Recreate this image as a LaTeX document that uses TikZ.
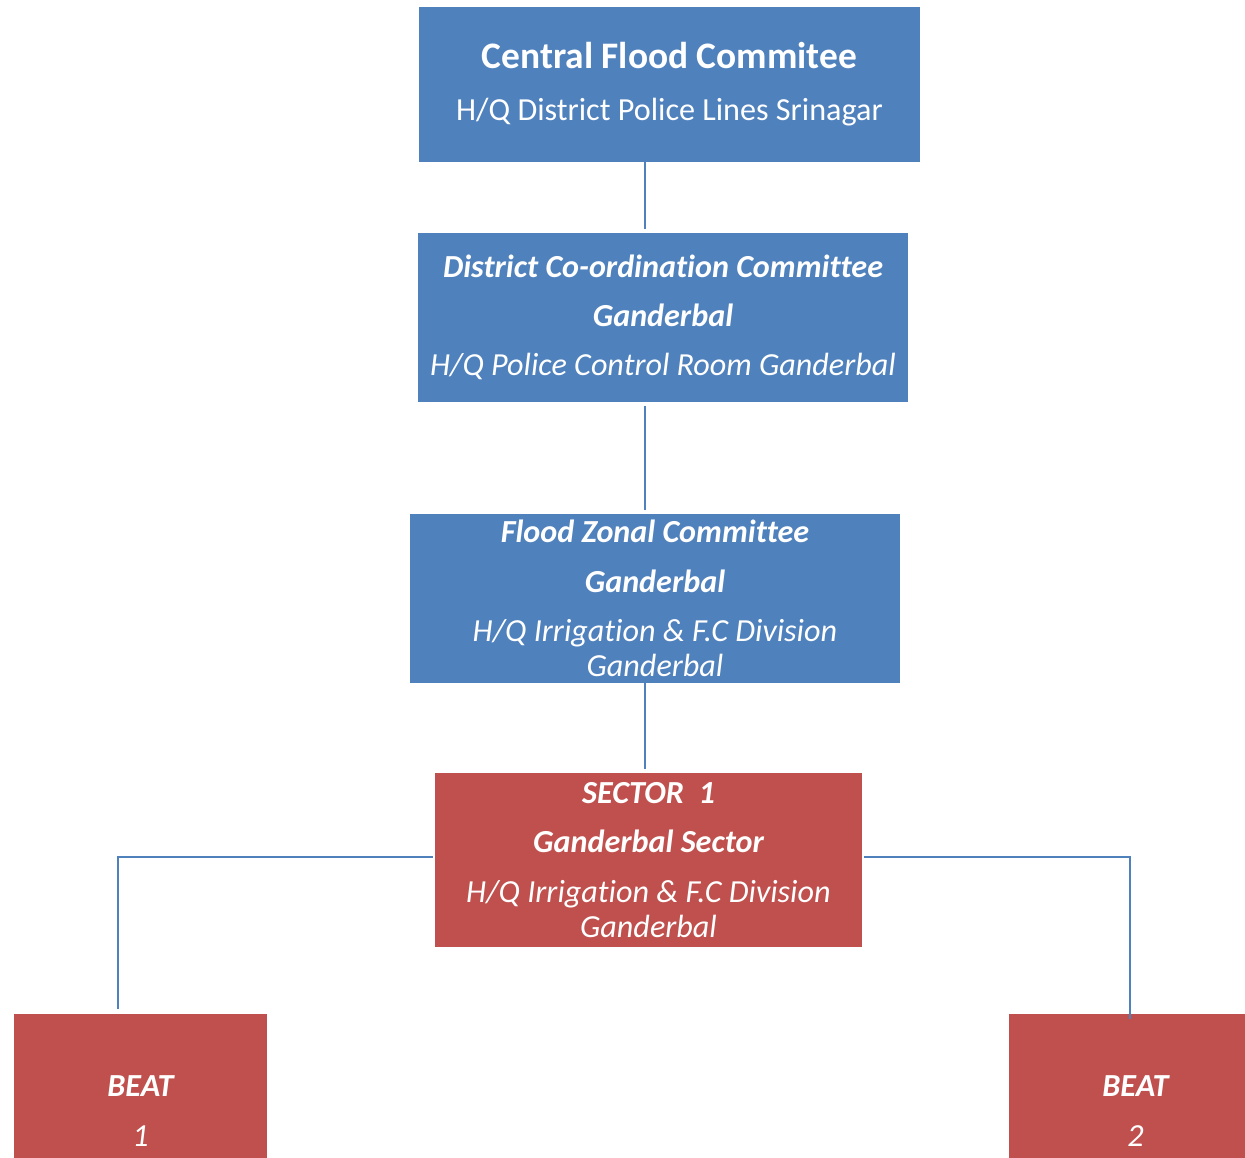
\documentclass[tikz,border=0pt]{standalone}
\usepackage{fontspec}
\setmainfont{Carlito}[Ligatures=NoCommon]
\usepackage{xcolor}
\usetikzlibrary{calc}
\definecolor{boxblue}{HTML}{4F81BD}
\definecolor{boxred}{HTML}{C0504D}
\begin{document}
\begin{tikzpicture}[x=0.02cm,y=-0.02cm,
	box/.style={rectangle, inner sep=0pt, text=white, align=center,
		font=\fontsize{18.3}{20}\selectfont},
	bluebox/.style={box, fill=boxblue},
	redbox/.style={box, fill=boxred},
	link/.style={draw=boxblue, line width=1.1pt}]
	\useasboundingbox (0,0) rectangle (1245,1158);
	% Committees
	\node[bluebox, minimum width=10.02cm, minimum height=3.1cm] (central) at (669.5,84.5)
		{{\fontsize{21.3}{25}\selectfont\bfseries Central Flood Commitee}\\[9.5pt]
		 {\fontsize{18.3}{20}\selectfont H/Q District Police Lines Srinagar}};
	\node[bluebox, minimum width=9.8cm, minimum height=3.38cm] (district) at (663,317.5)
		{{\bfseries\itshape District Co-ordination Committee}\\[8pt]
		 {\bfseries\itshape Ganderbal}\\[8pt]
		 {\itshape H/Q Police Control Room Ganderbal}};
	\node[bluebox, minimum width=9.8cm, minimum height=3.38cm] (zonal) at (655,598.5)
		{{\bfseries\itshape Flood Zonal Committee}\\[8pt]
		 {\bfseries\itshape Ganderbal}\\[8pt]
		 {\itshape H/Q Irrigation \& F.C Division}\\
		 {\itshape Ganderbal}};
	% Sector and beats
	\node[redbox, minimum width=8.54cm, minimum height=3.48cm] (sector) at (648.5,860)
		{{\bfseries\itshape SECTOR\ \ 1}\\[8pt]
		 {\bfseries\itshape Ganderbal Sector}\\[8pt]
		 {\itshape H/Q Irrigation \& F.C Division}\\
		 {\itshape Ganderbal}};
	\node[redbox, minimum width=5.06cm, minimum height=3.88cm] (beat1) at (140.5,1111)
		{{\bfseries\itshape BEAT}\\[8pt] {\itshape 1}};
	\node[redbox, minimum width=5.06cm, minimum height=3.88cm] (beat2) at (1135.5,1111)
		{{\bfseries\itshape BEAT}\\[8pt] {\itshape 2}};
	% Trunk and branches
	\coordinate (trunk) at (645,0);
	\coordinate (left) at (118,857);
	\coordinate (right) at (1130,857);
	\draw[link, shorten >=0.08cm] (central.south -| trunk) -- (district.north -| trunk);
	\draw[link, shorten <=0.08cm, shorten >=0.08cm] (district.south -| trunk) -- (zonal.north -| trunk);
	\draw[link, shorten >=0.08cm] (zonal.south -| trunk) -- (sector.north -| trunk);
	\draw[link, shorten <=0.04cm, shorten >=0.1cm] (sector.west |- left) -- (left) -- (beat1.north -| left);
	\draw[link, shorten <=0.04cm, shorten >=-0.1cm] (sector.east |- right) -- (right) -- (beat2.north -| right);
\end{tikzpicture}
\end{document}
